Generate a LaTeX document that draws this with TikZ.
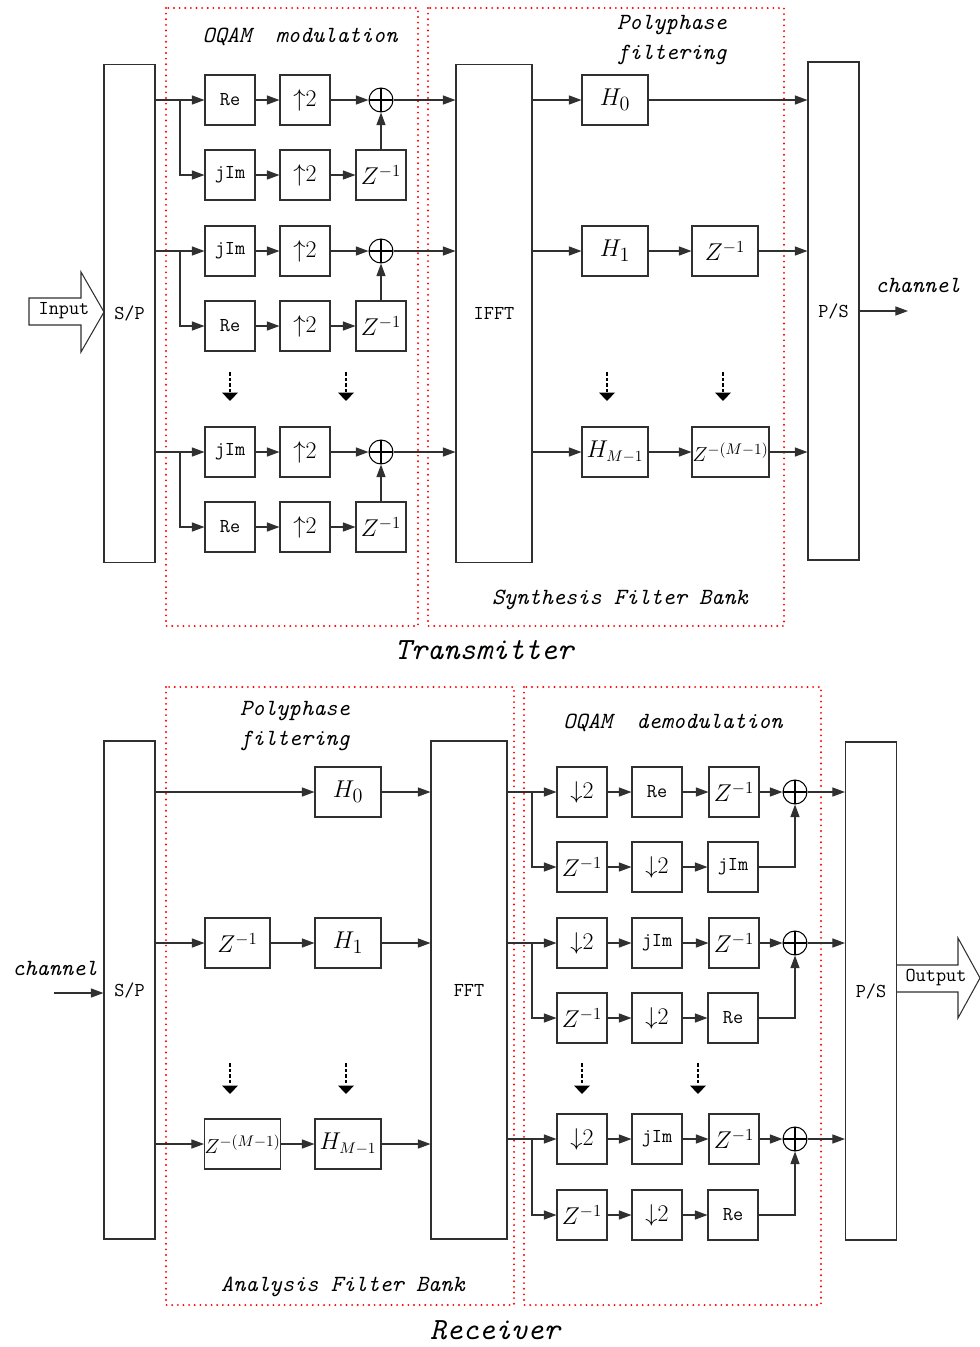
\documentclass[tikz,border=0pt]{standalone}
\usepackage{fontspec}
\usetikzlibrary{arrows.meta,positioning}
\definecolor{dotred}{HTML}{FF0000}
\definecolor{ink}{HTML}{303030}

\begin{document}
\begin{tikzpicture}[x=0.25mm,y=-0.25mm,
  box/.style={draw=ink,line width=0.75pt,minimum width=12.5mm,minimum height=12.5mm,inner sep=0pt,font=\fontsize{14}{14}\ttfamily},
  hbox/.style={box,minimum width=16.5mm,font=\fontsize{19}{19}\selectfont},
  zbox/.style={box,font=\fontsize{17}{17}\selectfont},
  tall/.style={draw=ink,line width=0.75pt,minimum height=124.5mm,minimum width=12.75mm,inner sep=0pt,font=\fontsize{14}{14}\ttfamily},
  adder/.style={draw,circle,line width=0.75pt,minimum size=6mm,inner sep=0pt,
    path picture={\draw[line width=0.75pt] (path picture bounding box.north) -- (path picture bounding box.south)
      (path picture bounding box.west) -- (path picture bounding box.east);}},
  arr/.style={draw=ink,line width=0.75pt,-{Triangle[length=9pt,width=6.5pt]}},
  vdots/.style={line width=1.8pt,dash pattern=on 2.5pt off 1.5pt,-{Triangle[length=6pt,width=11pt]}},
  bank/.style={dotred,line width=1.5pt,dash pattern=on 0pt off 4pt,line cap=round},
  ttl/.style={font=\fontsize{16.5}{21}\ttfamily\itshape,align=center},
  big/.style={font=\fontsize{22}{22}\ttfamily\itshape},
]
\useasboundingbox (0,0) rectangle (980,1347);

% ---------------- Transmitter ----------------
\draw[bank] (166,8) rectangle (418,626);
\draw[bank] (428,8) rectangle (784,626);
\node[ttl] (modlbl) at (300,37) {OQAM\ \ modulation};
\node[ttl] (pflbl) at (672,40) {Polyphase\\filtering};
\node[ttl] (sfb) at (620,600) {Synthesis Filter Bank};
\node[big] (tx) at (484,650) {Transmitter};

\node[tall] (sp) at (129.5,313.5) {S/P};
\node[tall,minimum width=19mm] (ifft) at (494,313.5) {IFFT};
\node[tall] (ps) at (833.5,311) {P/S};

\draw[ink,line width=0.75pt] (29,298) -- (81,298) -- (81,272) -- (104,312) -- (81,352) -- (81,325) -- (29,325) -- cycle;
\node[font=\fontsize{14}{14}\ttfamily] (inp) at (64,311) {Input};

\foreach \i/\ty/\by/\tl/\bl in {1/100/175/Re/jIm, 2/251/326/jIm/Re, 3/452/527/jIm/Re}{
  \node[box] (ta\i) at (230,\ty) {\tl};
  \node[zbox] (tu\i) at (305,\ty) {$\uparrow$2};
  \node[adder] (ts\i) at (381,\ty) {};
  \node[box] (tb\i) at (230,\by) {\bl};
  \node[zbox] (tv\i) at (305,\by) {$\uparrow$2};
  \node[zbox] (tz\i) at (381,\by) {$Z^{-1}$};
  \coordinate (tk\i) at (180,\ty);
  \draw[ink,line width=0.75pt] (sp.east |- ta\i) -- (tk\i);
  \draw[arr] (tk\i) -- (ta\i);
  \draw[arr] (tk\i) |- (tb\i);
  \draw[arr] (ta\i) -- (tu\i);
  \draw[arr] (tu\i) -- (ts\i);
  \draw[arr] (tb\i) -- (tv\i);
  \draw[arr] (tv\i) -- (tz\i);
  \draw[arr] (tz\i) -- (ts\i);
  \draw[arr] (ts\i) -- (ifft.west |- ts\i);
}

\node[hbox] (h0) at (615,100) {$H_0$};
\node[hbox] (h1) at (615,251) {$H_1$};
\node[zbox,minimum width=16.5mm] (z1) at (725,251) {$Z^{-1}$};
\node[hbox,font=\fontsize{16}{16}\selectfont] (hm) at (615,452) {$H_{M-1}$};
\node[zbox,minimum width=19.25mm,font=\fontsize{15.5}{15.5}\selectfont] (zm) at (730.5,452) {$Z^{-(M-1)}$};
\draw[arr] (ifft.east |- h0) -- (h0);
\draw[arr] (h0) -- (ps.west |- h0);
\draw[arr] (ifft.east |- h1) -- (h1);
\draw[arr] (h1) -- (z1);
\draw[arr] (z1) -- (ps.west |- z1);
\draw[arr] (ifft.east |- hm) -- (hm);
\draw[arr] (hm) -- (zm);
\draw[arr] (zm) -- (ps.west |- zm);

\foreach \x in {230,346,607,723}
  \draw[vdots] (\x,372) -- (\x,401);

\coordinate (chout) at (908,311);
\draw[arr] (ps.east |- chout) -- (chout);
\node[ttl] (ch1) at (918,285) {channel};

% ---------------- Receiver ----------------
\draw[bank] (166,687) rectangle (514,1305);
\draw[bank] (524,687) rectangle (821,1305);
\node[ttl] (pf2) at (295,726) {Polyphase\\filtering};
\node[ttl] (demod) at (673,723) {OQAM\ \ demodulation};
\node[ttl] (afb) at (343,1287) {Analysis Filter Bank};
\node[big] (rx) at (495,1330) {Receiver};

\node[tall] (sp2) at (129.5,990) {S/P};
\node[tall,minimum width=19mm] (fft) at (469,990) {FFT};
\node[tall] (ps2) at (871,991) {P/S};

\coordinate (chin) at (54,993);
\draw[arr] (chin) -- (sp2.west |- chin);
\node[ttl] (ch2) at (55,968) {channel};

\node[hbox] (g0) at (348,792) {$H_0$};
\node[zbox,minimum width=16.25mm] (d1) at (237.5,943) {$Z^{-1}$};
\node[hbox] (g1) at (348,943) {$H_1$};
\node[zbox,minimum width=18.75mm,font=\fontsize{15.5}{15.5}\selectfont] (dm) at (242.5,1144) {$Z^{-(M-1)}$};
\node[hbox,font=\fontsize{16}{16}\selectfont] (gm) at (348,1144) {$H_{M-1}$};
\draw[arr] (sp2.east |- g0) -- (g0);
\draw[arr] (g0) -- (fft.west |- g0);
\draw[arr] (sp2.east |- d1) -- (d1);
\draw[arr] (d1) -- (g1);
\draw[arr] (g1) -- (fft.west |- g1);
\draw[arr] (sp2.east |- dm) -- (dm);
\draw[arr] (dm) -- (gm);
\draw[arr] (gm) -- (fft.west |- gm);

\foreach \i/\ty/\by/\ml/\ll in {1/792/867/Re/jIm, 2/943/1018/jIm/Re, 3/1139/1215/jIm/Re}{
  \node[zbox] (ra\i) at (582,\ty) {$\downarrow$2};
  \node[box] (rb\i) at (657,\ty) {\ml};
  \node[zbox] (rc\i) at (734,\ty) {$Z^{-1}$};
  \node[adder] (rs\i) at (795,\ty) {};
  \node[zbox] (rd\i) at (582,\by) {$Z^{-1}$};
  \node[zbox] (re\i) at (657,\by) {$\downarrow$2};
  \node[box] (rf\i) at (733,\by) {\ll};
  \coordinate (rk\i) at (532,\ty);
  \draw[ink,line width=0.75pt] (fft.east |- ra\i) -- (rk\i);
  \draw[arr] (rk\i) -- (ra\i);
  \draw[arr] (rk\i) |- (rd\i);
  \draw[arr] (ra\i) -- (rb\i);
  \draw[arr] (rb\i) -- (rc\i);
  \draw[arr] (rc\i) -- (rs\i);
  \draw[arr] (rd\i) -- (re\i);
  \draw[arr] (re\i) -- (rf\i);
  \draw[arr] (rf\i) -| (rs\i);
  \draw[arr] (rs\i) -- (ps2.west |- rs\i);
}

\foreach \x in {230,346,582,698}
  \draw[vdots] (\x,1063) -- (\x,1094);

\draw[ink,line width=0.75pt] (896,965) -- (958,965) -- (958,938) -- (980,978) -- (958,1018) -- (958,992) -- (896,992);
\node[font=\fontsize{14}{14}\ttfamily] (outp) at (936,978) {Output};
\end{tikzpicture}
\end{document}
